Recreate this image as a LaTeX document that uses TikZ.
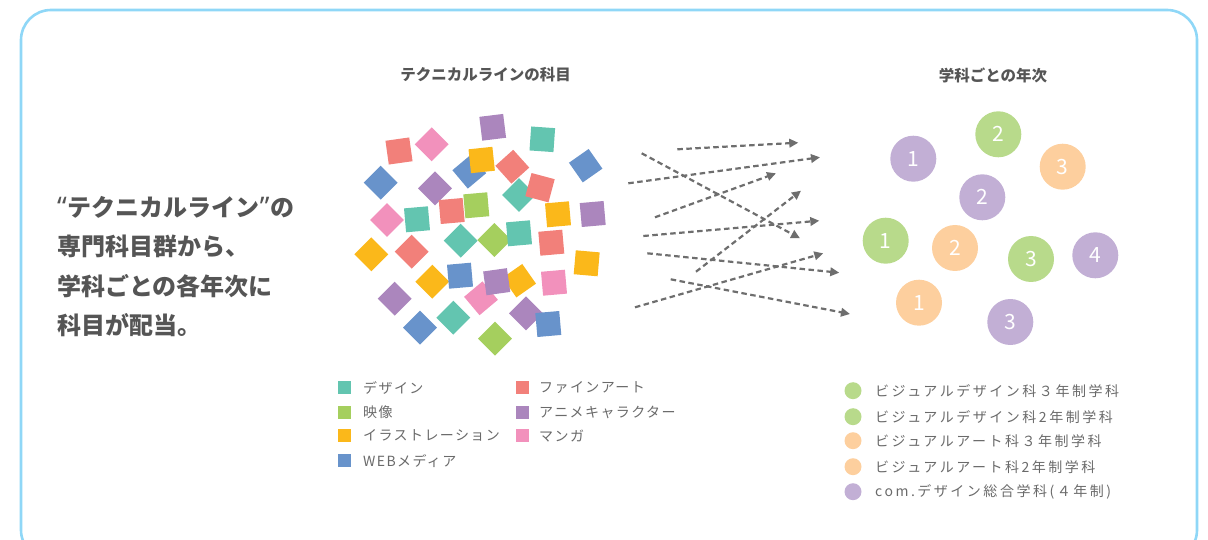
\documentclass[tikz,border=0pt]{standalone}
\usepackage{fontspec}
\newfontfamily\jp{Noto Sans CJK JP}
\newfontfamily\jpl[LetterSpace=10]{Noto Sans CJK JP}
\newfontfamily\jpr[LetterSpace=18]{Noto Sans CJK JP}
\newfontfamily\latq{Noto Sans}
\usetikzlibrary{arrows.meta}
\definecolor{frame}{HTML}{8FD7F7}
\definecolor{cT}{HTML}{63C5B0}
\definecolor{cR}{HTML}{F2807A}
\definecolor{cK}{HTML}{F291BC}
\definecolor{cB}{HTML}{6893CB}
\definecolor{cP}{HTML}{AB86BD}
\definecolor{cY}{HTML}{FBB81A}
\definecolor{cG}{HTML}{A5CF5E}
\definecolor{yG}{HTML}{B8DA8B}
\definecolor{yO}{HTML}{FDCF9E}
\definecolor{yP}{HTML}{C2AFD5}
\definecolor{txt}{HTML}{555555}
\definecolor{ltxt}{HTML}{6A6A6A}
\definecolor{arrc}{HTML}{6E6E6E}
\tikzset{
  sq/.style={rectangle,minimum size=24pt,inner sep=0pt,draw=none},
  lsq/.style={rectangle,minimum size=13pt,inner sep=0pt,draw=none},
  circ/.style={circle,minimum size=46pt,inner sep=0pt,draw=none,text=white,font=\jp\fontsize{21}{21}\selectfont},
  lcirc/.style={circle,minimum size=17pt,inner sep=0pt,draw=none},
  arr/.style={draw=arrc,line width=2.2pt,dash pattern=on 5.5pt off 3.5pt,-{Triangle[length=9pt,width=8.5pt]}},
  ltext/.style={anchor=west,inner sep=0pt,text=ltxt,font=\jpl\fontsize{14}{16}\selectfont},
  rtext/.style={anchor=west,inner sep=0pt,text=ltxt,font=\jpr\fontsize{14}{16}\selectfont},
  ttl/.style={inner sep=0pt,text=txt,font=\jp\bfseries\fontsize{15.5}{17}\selectfont},
  big/.style={anchor=west,inner sep=0pt,text=txt,font=\jp\bfseries\fontsize{24}{27}\selectfont}
}
\begin{document}
\begin{tikzpicture}[x=1pt,y=-1pt]
\useasboundingbox (0,0) rectangle (1208,540);
\draw[frame,line width=2.6pt,rounded corners=30pt] (21,10) rectangle (1197,560);

% titles
\node[ttl] (t1) at (485.5,75) {テクニカルラインの科目};
\node[ttl] (t2) at (993,75) {学科ごとの年次};

% left text
\node[big] (l1) at (57,207) {{\latq\bfseries\fontsize{27}{27}\selectfont “}\kern1pt テクニカルライン{\latq\bfseries\fontsize{27}{27}\selectfont ”}\kern1pt の};
\node[big] (l2) at (57,246.5) {専門科目群から、};
\node[big] (l3) at (57,286) {学科ごとの各年次に};
\node[big] (l4) at (57,325.5) {科目が配当。};

% squares
\node[sq,fill=cP,rotate=7] (s1) at (492.7,127.3) {};
\node[sq,fill=cT,rotate=-4] (s2) at (542.3,139.3) {};
\node[sq,fill=cR,rotate=8] (s3) at (399,151) {};
\node[sq,fill=cK,rotate=45] (s4) at (431.7,144.3) {};
\node[sq,fill=cB,rotate=40] (s5) at (469.3,171.7) {};
\node[sq,fill=cY,rotate=6] (s6) at (481.7,160) {};
\node[sq,fill=cR,rotate=42] (s7) at (512.3,166.7) {};
\node[sq,fill=cB,rotate=35] (s8) at (585.7,165.7) {};
\node[sq,fill=cB,rotate=45] (s9) at (380.7,182.7) {};
\node[sq,fill=cP,rotate=45] (s10) at (435,188.3) {};
\node[sq,fill=cT,rotate=45] (s11) at (519,195) {};
\node[sq,fill=cR,rotate=-15] (s12) at (540,187.7) {};
\node[sq,fill=cK,rotate=45] (s13) at (387,220) {};
\node[sq,fill=cT,rotate=5] (s14) at (417,219.3) {};
\node[sq,fill=cR,rotate=5] (s15) at (451.7,211) {};
\node[sq,fill=cG,rotate=5] (s16) at (476.3,205.3) {};
\node[sq,fill=cY,rotate=5] (s17) at (558,214.3) {};
\node[sq,fill=cP,rotate=5] (s18) at (592.7,214) {};
\node[sq,fill=cY,rotate=45] (s19) at (371.3,254.3) {};
\node[sq,fill=cR,rotate=45] (s20) at (411.7,251.7) {};
\node[sq,fill=cT,rotate=45] (s21) at (460.7,240.7) {};
\node[sq,fill=cG,rotate=45] (s22) at (494.3,240) {};
\node[sq,fill=cT,rotate=5] (s23) at (519,233.3) {};
\node[sq,fill=cR,rotate=5] (s24) at (551.3,242.7) {};
\node[sq,fill=cY,rotate=-5] (s25) at (586.7,263.3) {};
\node[sq,fill=cY,rotate=45] (s26) at (432.3,281.7) {};
\node[sq,fill=cB,rotate=5] (s27) at (460,275.7) {};
\node[sq,fill=cK,rotate=40] (s32) at (481,298.3) {};
\node[sq,fill=cY,rotate=35] (s28) at (519.3,280.7) {};
\node[sq,fill=cP,rotate=8] (s29) at (496.7,281.7) {};
\node[sq,fill=cK,rotate=5] (s30) at (554,282.7) {};
\node[sq,fill=cP,rotate=45] (s31) at (394.7,298.7) {};
\node[sq,fill=cT,rotate=45] (s33) at (453.3,317.7) {};
\node[sq,fill=cB,rotate=45] (s34) at (420,327.7) {};
\node[sq,fill=cP,rotate=45] (s35) at (526,313.3) {};
\node[sq,fill=cB,rotate=5] (s36) at (548.3,324) {};
\node[sq,fill=cG,rotate=45] (s37) at (495,338.7) {};

% arrows
\coordinate (a1s) at (677.3,149.3); \coordinate (a1e) at (798.3,142.7);
\coordinate (a2s) at (628.3,183.3); \coordinate (a2e) at (820,157.3);
\coordinate (a3s) at (641.7,153.3); \coordinate (a3e) at (800,238.3);
\coordinate (a4s) at (655,217.3);   \coordinate (a4e) at (776,173.3);
\coordinate (a5s) at (643.3,236);   \coordinate (a5e) at (819.3,220.7);
\coordinate (a6s) at (696,271.7);   \coordinate (a6e) at (801,190.7);
\coordinate (a7s) at (647.3,253.3); \coordinate (a7e) at (839.3,272.7);
\coordinate (a8s) at (635,307.3);   \coordinate (a8e) at (823.3,253.3);
\coordinate (a9s) at (670.7,279.3); \coordinate (a9e) at (850,314);
\foreach \i in {1,...,9} { \draw[arr] (a\i s) -- (a\i e); }

% year circles
\node[circ,fill=yP] (p1) at (913.3,158.7) {1};
\node[circ,fill=yG] (g2) at (998.3,134.3) {2};
\node[circ,fill=yO] (o3) at (1062.7,166.7) {3};
\node[circ,fill=yP] (p2) at (982.3,197.3) {2};
\node[circ,fill=yG] (g1) at (885.7,240.7) {1};
\node[circ,fill=yO] (o2) at (955,248) {2};
\node[circ,fill=yG] (g3) at (1031,259) {3};
\node[circ,fill=yP] (p4) at (1095.3,255.3) {4};
\node[circ,fill=yO] (o1) at (919,302.7) {1};
\node[circ,fill=yP] (p3) at (1010.3,322) {3};

% left legend
\node[lsq,fill=cT] (k1) at (344.5,387.7) {};
\node[ltext] (k1t) at (363,387.7) {デザイン};
\node[lsq,fill=cG] (k2) at (344.5,412.3) {};
\node[ltext] (k2t) at (363,412.3) {映像};
\node[lsq,fill=cY] (k3) at (344.5,435.7) {};
\node[ltext] (k3t) at (363,435.7) {イラストレーション};
\node[lsq,fill=cB] (k4) at (344.5,460.7) {};
\node[ltext] (k4t) at (363,460.7) {WEBメディア};
\node[lsq,fill=cR] (k5) at (522,387.7) {};
\node[ltext] (k5t) at (539,387.7) {ファインアート};
\node[lsq,fill=cP] (k6) at (522,412.3) {};
\node[ltext] (k6t) at (539,412.3) {アニメキャラクター};
\node[lsq,fill=cK] (k7) at (522,435.7) {};
\node[ltext] (k7t) at (539,435.7) {マンガ};

% right legend
\node[lcirc,fill=yG] (r1) at (853,390.7) {};
\node[rtext] (r1t) at (875,390.7) {ビジュアルデザイン科３年制学科};
\node[lcirc,fill=yG] (r2) at (853,416.7) {};
\node[rtext] (r2t) at (875,416.7) {ビジュアルデザイン科2年制学科};
\node[lcirc,fill=yO] (r3) at (853,440.7) {};
\node[rtext] (r3t) at (875,440.7) {ビジュアルアート科３年制学科};
\node[lcirc,fill=yO] (r4) at (853,466.7) {};
\node[rtext] (r4t) at (875,466.7) {ビジュアルアート科2年制学科};
\node[lcirc,fill=yP] (r5) at (853,491.7) {};
\node[rtext] (r5t) at (875,491.7) {com.デザイン総合学科(４年制)};
\end{tikzpicture}
\end{document}
